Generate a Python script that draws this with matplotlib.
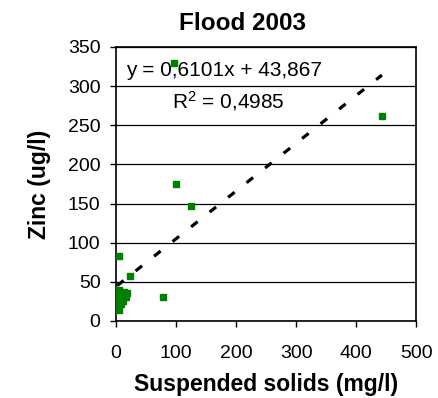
import numpy as np
import matplotlib
matplotlib.use('Agg')
import matplotlib.pyplot as plt

plt.rcParams['font.family'] = ['Liberation Sans', 'DejaVu Sans']

# Data
suspended = [443, 97, 100, 125, 23, 5, 78,
             2, 4, 6, 8, 10, 14, 17, 18, 3, 5, 12]
zinc = [262, 330, 175, 147, 57, 83, 31,
        27, 33, 14, 22, 30, 37, 30, 36, 20, 40, 25]

# Trendline from the chart's equation
slope = 0.6101
intercept = 43.867
r2 = 0.4985

fig = plt.figure(figsize=(4.39, 3.98), dpi=100)
ax = fig.add_axes([0.264, 0.1935, 0.684, 0.6885])

ax.grid(axis='y', color='black', linewidth=0.9)
ax.set_axisbelow(True)

ax.plot(suspended, zinc, linestyle='none', marker='s', markersize=5,
        color='#008000', zorder=3)

xl = np.array([min(suspended), max(suspended)])
ax.plot(xl, slope * xl + intercept, color='black', linewidth=2.3,
        linestyle=(0, (2.6, 4.8)), zorder=4)

ax.set_xlim(0, 500)
ax.set_ylim(0, 350)
ax.set_xticks(range(0, 501, 100))
ax.set_yticks(range(0, 351, 50))
ax.tick_params(direction='out', length=4, width=1, labelsize=14)
ax.tick_params(axis='x', pad=13)
ax.tick_params(axis='y', pad=7)
for s in ax.spines.values():
    s.set_linewidth(1.2)

fig.text(0.552, 1 - 29.5 / 398, 'Flood 2003', fontsize=17.5, fontweight='bold',
         ha='center', va='baseline')
ax.set_xlabel('Suspended solids (mg/l)', fontsize=16.5, fontweight='bold', labelpad=8)
ax.set_ylabel('Zinc (ug/l)', fontsize=16.5, fontweight='bold', labelpad=12)

eq = 'y = ' + f'{slope:.4f}'.replace('.', ',') + 'x + ' + f'{intercept:.3f}'.replace('.', ',')
ax.text(0.033, 0.915, eq, transform=ax.transAxes, fontsize=15, va='center')
ax.text(0.187, 0.803, '$\\mathregular{R^2}$ = ' + f'{r2:.4f}'.replace('.', ','),
        transform=ax.transAxes, fontsize=15, va='center')

fig.savefig('out.png', dpi=100)
